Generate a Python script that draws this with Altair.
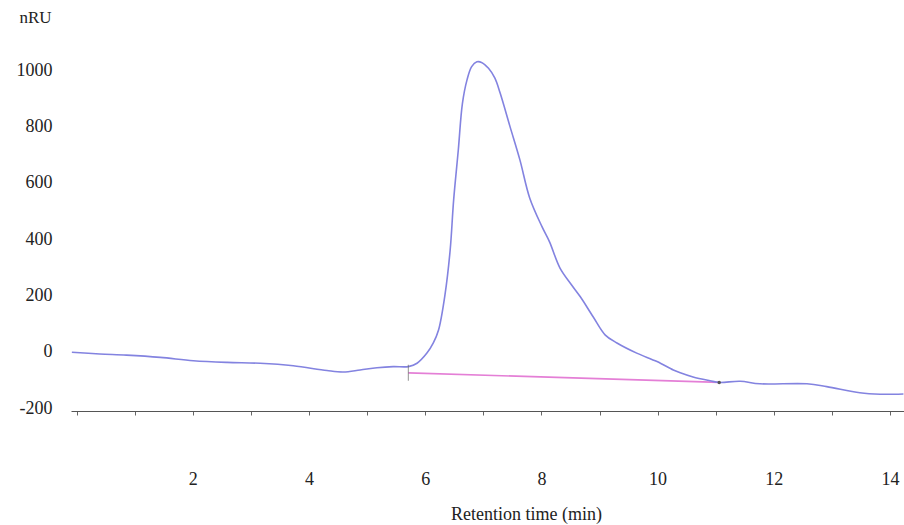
import altair as alt
import pandas as pd

# Chromatogram trace (retention time in min, signal in nRU)
time_min = [-0.08, 0.40, 0.86, 1.44, 2.01, 2.59, 3.16, 3.73, 4.31, 4.59, 4.88, 5.17, 5.45, 5.71,
            5.86, 6.03, 6.14, 6.23, 6.34, 6.43, 6.49, 6.57, 6.64, 6.72, 6.80, 6.89, 6.97, 7.09,
            7.20, 7.29, 7.46, 7.63, 7.80, 8.01, 8.14, 8.32, 8.52, 8.67, 8.89, 9.10, 9.30,
            9.64, 9.99, 10.27, 10.39, 10.61, 10.90, 11.06, 11.42, 11.76, 12.57, 12.91, 13.48,
            13.83, 14.23]
signal_nru = [-2, -8, -12, -20, -32, -38, -41, -50, -67, -72, -65, -57, -53, -53,
              -41, -5, 31, 77, 201, 361, 539, 716, 880, 965, 1012, 1029, 1027, 1006,
              971, 918, 799, 681, 545, 444, 390, 297, 237, 195, 124, 59, 31,
              -5, -35, -65, -75, -90, -103, -109, -105, -114, -114, -124, -146,
              -151, -150]

# Integration baseline (start / end)
base_time = [5.71, 11.06]
base_signal = [-75, -109]

x_ticks = [i * 0.5 for i in range(0, 29)]
y_ticks = [-200, 0, 200, 400, 600, 800, 1000]

trace = pd.DataFrame({"t": time_min, "s": signal_nru})
base = pd.DataFrame({"t": base_time, "s": base_signal})

FONT = "Liberation Serif"

xscale = alt.Scale(domain=[-0.095, 14.24], nice=False, zero=False)
yscale = alt.Scale(domain=[-210.5, 1213], nice=False, zero=False)

x_enc = alt.X(
    "t:Q", scale=xscale,
    axis=alt.Axis(
        values=x_ticks,
        labelExpr="(datum.value % 2 == 0 && datum.value > 0) ? ('' + datum.value) : ''",
        title="Retention time (min)",
        titleFont=FONT, titleFontSize=18, titleFontWeight="normal", titleColor="#222",
        titleX=455, titleY=103, titleAlign="center", titleBaseline="middle",
        labelFont=FONT, labelFontSize=18, labelColor="#222",
        labelBaseline="middle", labelPadding=64,
        tickSize=4, tickColor="#666", domainColor="#555", domainWidth=1,
        grid=False, labelFlush=False,
    ),
)
y_enc = alt.Y(
    "s:Q", scale=yscale,
    axis=alt.Axis(
        values=y_ticks,
        labelExpr="'' + datum.value",
        title="nRU", titleAngle=0, titleX=-36, titleY=7,
        titleAlign="center", titleBaseline="middle",
        titleFont=FONT, titleFontSize=17, titleFontWeight="normal", titleColor="#222",
        labelFont=FONT, labelFontSize=18, labelColor="#222",
        labelPadding=19, ticks=False, tickSize=0, domain=False, grid=False,
    ),
)

curve = alt.Chart(trace).mark_line(color="#8383e0", strokeWidth=1.6, interpolate="catmull-rom").encode(
    x=x_enc, y=y_enc
)
baseline = alt.Chart(base).mark_line(color="#e47fd6", strokeWidth=1.6).encode(
    x=alt.X("t:Q", scale=xscale), y=alt.Y("s:Q", scale=yscale)
)
start_mark = alt.Chart(base.iloc[[0]]).mark_tick(orient="vertical", color="#666", size=16, thickness=1).encode(
    x=alt.X("t:Q", scale=xscale), y=alt.Y("s:Q", scale=yscale)
)
end_mark = alt.Chart(base.iloc[[1]]).mark_point(filled=True, color="#555", size=12, opacity=1).encode(
    x=alt.X("t:Q", scale=xscale), y=alt.Y("s:Q", scale=yscale)
)

chart = (
    alt.layer(baseline, curve, start_mark, end_mark)
    .properties(
        width=833, height=401,
        autosize=alt.AutoSizeParams(type="none"),
        padding={"left": 71, "top": 10, "right": 0, "bottom": 114},
        background="white",
    )
    .configure_view(stroke=None)
)

chart.save("out.html", embed_options={"renderer": "svg", "actions": False})
